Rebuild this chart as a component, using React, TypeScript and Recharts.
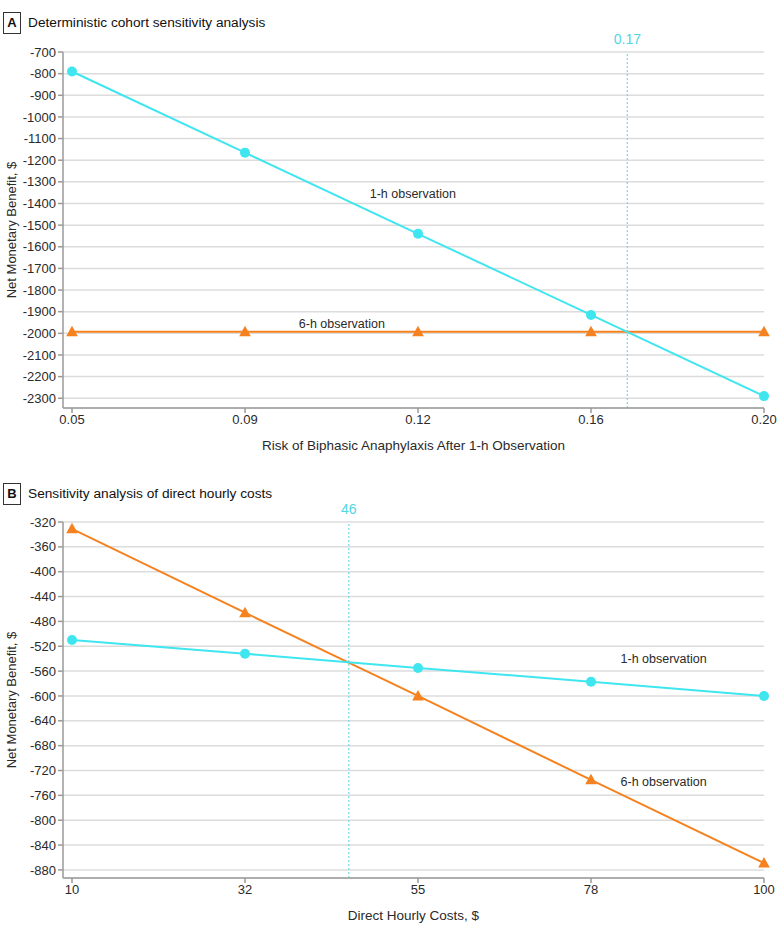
import React from "react";
import {
  LineChart,
  Line,
  XAxis,
  YAxis,
  CartesianGrid,
  ReferenceLine,
  ReferenceDot,
} from "recharts";

// ---------- Panel A data ----------
const categoriesA = ["0.05", "0.09", "0.12", "0.16", "0.20"];
const oneHourA = [-790, -1165, -1540, -1915, -2290];
const sixHourA = [-1993, -1993, -1993, -1993, -1993];
const yTicksA = [
  -700, -800, -900, -1000, -1100, -1200, -1300, -1400, -1500, -1600, -1700,
  -1800, -1900, -2000, -2100, -2200, -2300,
];
const thresholdA = { label: "0.17", pos: 3.21 };
const notesA = [
  { text: "1-h observation", x: 1.97, y: -1353 },
  { text: "6-h observation", x: 1.56, y: -1955 },
];

// ---------- Panel B data ----------
const categoriesB = ["10", "32", "55", "78", "100"];
const oneHourB = [-510, -532, -555, -577, -600];
const sixHourB = [-331, -466, -600, -735, -869];
const yTicksB = [
  -320, -360, -400, -440, -480, -520, -560, -600, -640, -680, -720, -760,
  -800, -840, -880,
];
const thresholdB = { label: "46", pos: 1.6 };
const notesB = [
  { text: "1-h observation", x: 3.42, y: -539 },
  { text: "6-h observation", x: 3.42, y: -737 },
];

const CYAN = "#3fe6ef";
const ORANGE = "#f5821f";
const REF = "#6fdde8";
const FONT = "'Liberation Sans', Arial, sans-serif";
const AXIS = "#9a9a9a";
const GRID = "#dcdcdc";
const TEXT = "#2a2a2a";

const TriangleDot = (props: any) => {
  const { cx, cy, index } = props;
  if (cx == null || cy == null) return null;
  return (
    <path
      key={"t" + index}
      d={`M${cx},${cy - 6} L${cx + 5.8},${cy + 4.5} L${cx - 5.8},${cy + 4.5} Z`}
      fill={ORANGE}
      stroke="none"
    />
  );
};

const YLabel = (props: any) => {
  const vb = props.viewBox || {};
  const cy = vb.y + vb.height / 2;
  return (
    <text
      x={11}
      y={cy}
      transform={`rotate(-90, 11, ${cy})`}
      textAnchor="middle"
      dominantBaseline="central"
      fontSize={13}
      fill={TEXT}
      fontFamily={FONT}
    >
      Net Monetary Benefit, $
    </text>
  );
};

type PanelProps = {
  cats: string[];
  one: number[];
  six: number[];
  ticks: number[];
  domain: [number, number];
  threshold: { label: string; pos: number };
  notes: { text: string; x: number; y: number }[];
  xTitle: string;
  height: number;
  top: number;
};

const Panel = ({ cats, one, six, ticks, domain, threshold, notes, xTitle, height, top }: PanelProps) => {
  const data = cats.map((c, i) => ({ i, one: one[i], six: six[i] }));
  return (
    <LineChart
      width={780}
      height={height}
      data={data}
      margin={{ top, right: 16, left: 0, bottom: 0 }}
      style={{ fontFamily: FONT }}
    >
      <CartesianGrid vertical={false} stroke={GRID} strokeWidth={1.5} />
      <XAxis
        type="number"
        dataKey="i"
        domain={[0, 4]}
        ticks={[0, 1, 2, 3, 4]}
        interval={0}
        tickFormatter={(v: number) => cats[v]}
        padding={{ left: 9, right: 0 }}
        height={57}
        stroke={AXIS}
        strokeWidth={1.5}
        tickSize={5}
        tick={{ fill: TEXT, fontSize: 13 }}
        label={{ value: xTitle, position: "insideBottom", offset: 15, fill: TEXT, fontSize: 13.5 }}
      />
      <YAxis
        type="number"
        domain={domain}
        ticks={ticks}
        interval={0}
        width={63}
        stroke={AXIS}
        strokeWidth={1.5}
        tickSize={5}
        tick={{ fill: TEXT, fontSize: 13 }}
        label={<YLabel />}
      />
      <ReferenceLine
        x={threshold.pos}
        stroke={REF}
        strokeWidth={1.2}
        strokeDasharray="2 2"
        label={{ value: threshold.label, position: "top", fill: "#4fd6e4", fontSize: 14, offset: 8 }}
      />
      <Line
        dataKey="six"
        stroke={ORANGE}
        strokeWidth={2}
        dot={<TriangleDot />}
        isAnimationActive={false}
      />
      <Line
        dataKey="one"
        stroke={CYAN}
        strokeWidth={2}
        dot={{ r: 5, fill: CYAN, stroke: "none" }}
        isAnimationActive={false}
      />
      {notes.map((n, k) => (
        <ReferenceDot
          key={k}
          x={n.x}
          y={n.y}
          r={0}
          fill="none"
          stroke="none"
          label={{ value: n.text, position: "center", fill: TEXT, fontSize: 12.5 }}
        />
      ))}
    </LineChart>
  );
};

const Header = ({ letter, title, top }: { letter: string; title: string; top: number }) => (
  <div style={{ position: "absolute", left: 0, top, height: 22, width: 400, fontFamily: FONT }}>
    <div
      style={{
        position: "absolute",
        left: 3,
        top: 0,
        width: 16,
        height: 20,
        border: "1px solid #333",
        fontWeight: "bold",
        fontSize: 13,
        lineHeight: "20px",
        textAlign: "center",
        color: "#111",
      }}
    >
      {letter}
    </div>
    <div
      style={{
        position: "absolute",
        left: 28,
        top: 0,
        fontSize: 13.7,
        lineHeight: "21px",
        color: "#111",
        whiteSpace: "nowrap",
      }}
    >
      {title}
    </div>
  </div>
);

export default function App() {
  return (
    <div style={{ position: "absolute", left: 0, top: 0, width: 780, height: 935, background: "#fff" }}>
      <Header letter="A" title="Deterministic cohort sensitivity analysis" top={12} />
      <div style={{ position: "absolute", left: 0, top: 0 }}>
        <Panel
          cats={categoriesA}
          one={oneHourA}
          six={sixHourA}
          ticks={yTicksA}
          domain={[-2345, -700]}
          threshold={thresholdA}
          notes={notesA}
          xTitle="Risk of Biphasic Anaphylaxis After 1-h Observation"
          height={465}
          top={52}
        />
      </div>
      <Header letter="B" title="Sensitivity analysis of direct hourly costs" top={483} />
      <div style={{ position: "absolute", left: 0, top: 465 }}>
        <Panel
          cats={categoriesB}
          one={oneHourB}
          six={sixHourB}
          ticks={yTicksB}
          domain={[-893, -320]}
          threshold={thresholdB}
          notes={notesB}
          xTitle="Direct Hourly Costs, $"
          height={470}
          top={57}
        />
      </div>
    </div>
  );
}
